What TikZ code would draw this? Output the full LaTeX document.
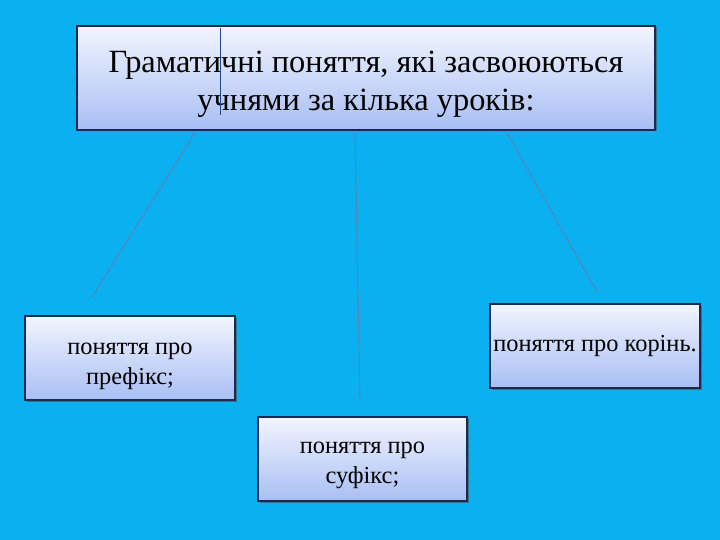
\documentclass[tikz,border=0pt]{standalone}
\usepackage{fontspec}
\setmainfont{Liberation Serif}
\usetikzlibrary{shadows}
\definecolor{bg}{HTML}{0AB0F0}
\definecolor{boxtop}{HTML}{F2F5FD}
\definecolor{boxbot}{HTML}{A8BEF4}
\definecolor{boxline}{HTML}{1A2A50}
\definecolor{conn}{HTML}{5E80B4}
\tikzset{
  box/.style={draw=boxline, line width=1.2pt, top color=boxtop, bottom color=boxbot,
    drop shadow={shadow xshift=1.5pt, shadow yshift=-1.5pt, fill=black!70, opacity=0.6},
    inner sep=0pt},
  boxtext/.style={align=center, inner sep=0pt, text=black, font=\fontsize{24.4}{30}\selectfont},
  titletext/.style={align=center, inner sep=0pt, text=black, font=\fontsize{32.4}{38}\selectfont},
  conn/.style={draw=conn, line width=0.9pt}
}
\begin{document}
\begin{tikzpicture}[x=1pt,y=-1pt]
\fill[bg] (0,0) rectangle (720,540);
\useasboundingbox (0,0) rectangle (720,540);
\node[box, minimum width=578pt, minimum height=104pt] (title) at (366,78) {};
\node[titletext] (titlet) at (366,84) {Граматичні поняття, які засвоюються\\учнями за кілька уроків:};
\draw[draw={rgb,255:red,30;green,70;blue,140}, line width=0.8pt] (220,28) -- (220,115);
\node[box, minimum width=210pt, minimum height=84pt] (pref) at (130,358) {};
\node[boxtext] (preft) at (130,366) {поняття про\\префікс;};
\node[box, minimum width=210pt, minimum height=84pt] (kor) at (595,346) {};
\node[boxtext] (kort) at (595,346) {поняття про корінь.};
\node[box, minimum width=209pt, minimum height=84pt] (suf) at (362.5,459) {};
\node[boxtext] (suft) at (362.5,465) {поняття про\\суфікс;};
\coordinate (a1) at (195,133);
\coordinate (a2) at (92,297);
\coordinate (b1) at (355,133);
\coordinate (b2) at (360,400);
\coordinate (c1) at (507,133);
\coordinate (c2) at (598,293);
\draw[conn] (a1) -- (a2);
\draw[conn] (b1) -- (b2);
\draw[conn] (c1) -- (c2);
\end{tikzpicture}
\end{document}
